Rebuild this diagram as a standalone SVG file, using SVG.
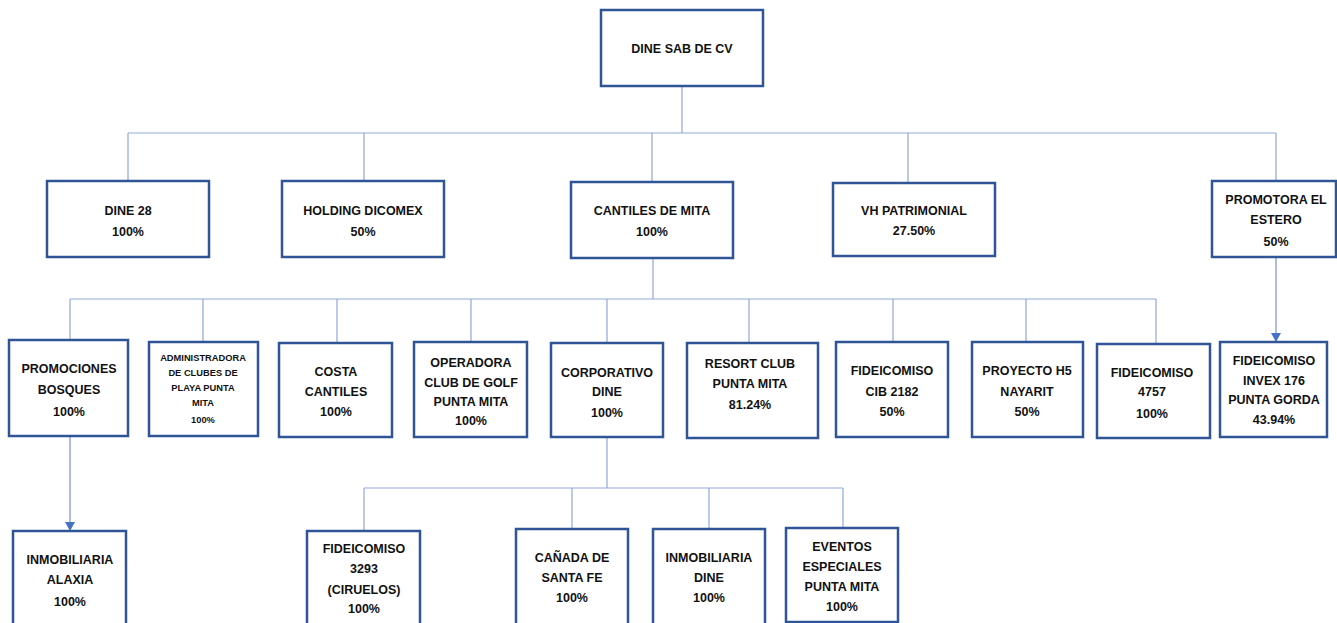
<svg xmlns="http://www.w3.org/2000/svg" width="1337" height="623" viewBox="0 0 1337 623">
<style>
.box{fill:#fff;stroke:#2F5597;stroke-width:2.5}
.t{font-family:"Liberation Sans",Arial,sans-serif;font-weight:bold;font-size:12.5px;fill:#111;text-anchor:middle}
.s{font-size:9.3px}
.c{stroke:#8EA9DB;stroke-width:1.2;fill:none}
.a{stroke:#6F93D8;stroke-width:1.2;fill:none}
</style>
<defs>
<marker id="arr" markerWidth="10" markerHeight="10" refX="8" refY="5" orient="auto" markerUnits="userSpaceOnUse">
<path d="M0,0 L9,5 L0,10 Z" fill="#4472C4"/>
</marker>
</defs>
<rect width="1337" height="623" fill="#fff"/>
<g id="connectors">
<path class="c" d="M682,86 V133 M128,133 H1276 M128,133 V181 M364,133 V181 M652,133 V182 M908,133 V183 M1276,133 V181"/>
<path class="c" d="M653,258 V299 M70,299 H1156 M70,299 V340 M203,299 V342 M337,299 V343 M471,299 V342 M607,299 V343 M749,299 V343 M893,299 V342 M1026,299 V342 M1156,299 V344"/>
<path class="c" d="M607,437 V488 M364,488 H843 M364,488 V531 M572,488 V529 M709,488 V529 M843,488 V528"/>
<path class="a" d="M70,436 V530" marker-end="url(#arr)"/>
<path class="a" d="M1276,257 V341" marker-end="url(#arr)"/>
</g>
<g id="n-dine-sab"><rect class="box" x="601" y="10" width="162" height="76"/><text class="t" x="682" y="53">DINE SAB DE CV</text></g>
<g id="n-dine28"><rect class="box" x="47" y="181" width="162" height="76"/><text class="t" x="128" y="215">DINE 28</text><text class="t" x="128" y="236">100%</text></g>
<g id="n-holding"><rect class="box" x="282" y="181" width="162" height="76"/><text class="t" x="363" y="215">HOLDING DICOMEX</text><text class="t" x="363" y="236">50%</text></g>
<g id="n-cantiles"><rect class="box" x="571" y="182" width="162" height="76"/><text class="t" x="652" y="215">CANTILES DE MITA</text><text class="t" x="652" y="236">100%</text></g>
<g id="n-vh"><rect class="box" x="833" y="183" width="162" height="73"/><text class="t" x="914" y="215">VH PATRIMONIAL</text><text class="t" x="914" y="235">27.50%</text></g>
<g id="n-promotora"><rect class="box" x="1212" y="181" width="124" height="76"/><text class="t" x="1276" y="204">PROMOTORA EL</text><text class="t" x="1276" y="224">ESTERO</text><text class="t" x="1276" y="246">50%</text></g>
<g id="n-invex"><rect class="box" x="1220" y="342" width="107" height="95"/><text class="t" x="1274" y="365">FIDEICOMISO</text><text class="t" x="1274" y="385">INVEX 176</text><text class="t" x="1274" y="404">PUNTA GORDA</text><text class="t" x="1274" y="424">43.94%</text></g>
<g id="n-promociones"><rect class="box" x="9" y="340" width="119" height="96"/><text class="t" x="69" y="373">PROMOCIONES</text><text class="t" x="69" y="394">BOSQUES</text><text class="t" x="69" y="416">100%</text></g>
<g id="n-admin"><rect class="box" x="149" y="342" width="109" height="94"/><text class="t s" x="203" y="361">ADMINISTRADORA</text><text class="t s" x="203" y="376">DE CLUBES DE</text><text class="t s" x="203" y="391">PLAYA PUNTA</text><text class="t s" x="203" y="406">MITA</text><text class="t s" x="203" y="423">100%</text></g>
<g id="n-costa"><rect class="box" x="279" y="343" width="113" height="94"/><text class="t" x="336" y="376">COSTA</text><text class="t" x="336" y="396">CANTILES</text><text class="t" x="336" y="416">100%</text></g>
<g id="n-operadora"><rect class="box" x="414" y="342" width="113" height="95"/><text class="t" x="471" y="367">OPERADORA</text><text class="t" x="471" y="387">CLUB DE GOLF</text><text class="t" x="471" y="406">PUNTA MITA</text><text class="t" x="471" y="425">100%</text></g>
<g id="n-corporativo"><rect class="box" x="551" y="343" width="112" height="94"/><text class="t" x="607" y="377">CORPORATIVO</text><text class="t" x="607" y="396">DINE</text><text class="t" x="607" y="417">100%</text></g>
<g id="n-resort"><rect class="box" x="687" y="343" width="131" height="95"/><text class="t" x="750" y="368">RESORT CLUB</text><text class="t" x="750" y="388">PUNTA MITA</text><text class="t" x="750" y="409">81.24%</text></g>
<g id="n-cib"><rect class="box" x="836" y="342" width="112" height="95"/><text class="t" x="892" y="375">FIDEICOMISO</text><text class="t" x="892" y="396">CIB 2182</text><text class="t" x="892" y="416">50%</text></g>
<g id="n-h5"><rect class="box" x="972" y="342" width="111" height="95"/><text class="t" x="1027" y="375">PROYECTO H5</text><text class="t" x="1027" y="396">NAYARIT</text><text class="t" x="1027" y="416">50%</text></g>
<g id="n-4757"><rect class="box" x="1097" y="344" width="113" height="94"/><text class="t" x="1152" y="377">FIDEICOMISO</text><text class="t" x="1152" y="396">4757</text><text class="t" x="1152" y="418">100%</text></g>
<g id="n-alaxia"><rect class="box" x="13" y="531" width="113" height="100"/><text class="t" x="70" y="564">INMOBILIARIA</text><text class="t" x="70" y="584">ALAXIA</text><text class="t" x="70" y="606">100%</text></g>
<g id="n-3293"><rect class="box" x="307" y="531" width="113" height="100"/><text class="t" x="364" y="553">FIDEICOMISO</text><text class="t" x="364" y="573">3293</text><text class="t" x="364" y="594">(CIRUELOS)</text><text class="t" x="364" y="613">100%</text></g>
<g id="n-canada"><rect class="box" x="516" y="529" width="112" height="100"/><text class="t" x="572" y="562">CAÑADA DE</text><text class="t" x="572" y="582">SANTA FE</text><text class="t" x="572" y="602">100%</text></g>
<g id="n-inmdine"><rect class="box" x="653" y="529" width="112" height="100"/><text class="t" x="709" y="562">INMOBILIARIA</text><text class="t" x="709" y="582">DINE</text><text class="t" x="709" y="602">100%</text></g>
<g id="n-eventos"><rect class="box" x="786" y="528" width="112" height="94"/><text class="t" x="842" y="551">EVENTOS</text><text class="t" x="842" y="571">ESPECIALES</text><text class="t" x="842" y="591">PUNTA MITA</text><text class="t" x="842" y="611">100%</text></g>
</svg>
